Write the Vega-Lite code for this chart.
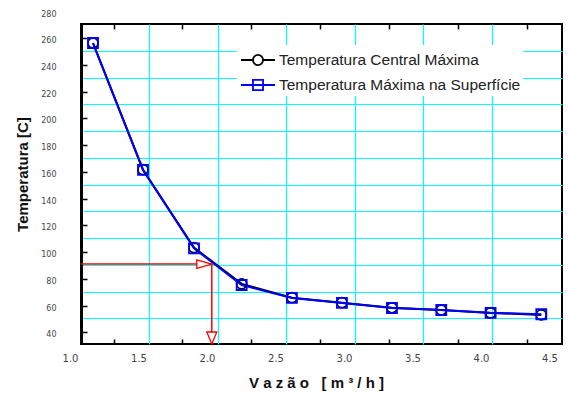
{
  "$schema": "https://vega.github.io/schema/vega-lite/v6.json",
  "width": 481,
  "height": 320,
  "autosize": "none",
  "padding": {"left": 81, "top": 24, "right": 6, "bottom": 54},
  "background": "white",
  "config": {
    "view": {"stroke": "black", "strokeWidth": 2},
    "axis": {"labelFont": "DejaVu Sans", "titleFont": "Liberation Sans", "labelColor": "#444", "titleColor": "#111", "labelOverlap": false, "labelFlush": false}
  },
  "datasets": {
    "series": [
      {"x": 1.168, "y": 258.3, "s": "Temperatura Central Máxima"},
      {"x": 1.533, "y": 163.6, "s": "Temperatura Central Máxima"},
      {"x": 1.905, "y": 105.3, "s": "Temperatura Central Máxima"},
      {"x": 2.253, "y": 78.2, "s": "Temperatura Central Máxima"},
      {"x": 2.62, "y": 67.9, "s": "Temperatura Central Máxima"},
      {"x": 2.985, "y": 64.2, "s": "Temperatura Central Máxima"},
      {"x": 3.35, "y": 60.3, "s": "Temperatura Central Máxima"},
      {"x": 3.71, "y": 58.6, "s": "Temperatura Central Máxima"},
      {"x": 4.07, "y": 56.5, "s": "Temperatura Central Máxima"},
      {"x": 4.44, "y": 55.0, "s": "Temperatura Central Máxima"},
      {"x": 1.168, "y": 258.3, "s": "Temperatura Máxima na Superfície"},
      {"x": 1.533, "y": 163.4, "s": "Temperatura Máxima na Superfície"},
      {"x": 1.905, "y": 104.8, "s": "Temperatura Máxima na Superfície"},
      {"x": 2.253, "y": 77.4, "s": "Temperatura Máxima na Superfície"},
      {"x": 2.62, "y": 67.7, "s": "Temperatura Máxima na Superfície"},
      {"x": 2.985, "y": 64.0, "s": "Temperatura Máxima na Superfície"},
      {"x": 3.35, "y": 60.2, "s": "Temperatura Máxima na Superfície"},
      {"x": 3.71, "y": 58.7, "s": "Temperatura Máxima na Superfície"},
      {"x": 4.07, "y": 56.6, "s": "Temperatura Máxima na Superfície"},
      {"x": 4.44, "y": 55.5, "s": "Temperatura Máxima na Superfície"}
    ],
    "hline": [{"x": 1.0803, "x2": 2.035, "y": 93}],
    "vline": [{"x": 2.035, "y": 93, "y2": 33.27}],
    "heads": [{"x": 2.035, "y": 93, "d": "h"}, {"x": 2.035, "y": 33.27, "d": "v"}]
  },
  "layer": [
    {
      "data": {"name": "series"},
      "mark": {"type": "line", "strokeWidth": 2},
      "encoding": {
        "x": {"field": "x", "type": "quantitative", "scale": {"domain": [1.0803, 4.5912], "nice": false, "zero": false},
          "axis": {"orient": "bottom", "values": [1.0803, 1.5, 2.0, 2.5, 3.0, 3.5, 4.0, 4.5], "labelExpr": "datum.value < 1.1 ? '1.0' : format(datum.value, '.1f')",
            "labelOffset": {"condition": {"test": "datum.value < 1.1", "value": -11}, "value": 0},
            "grid": false, "ticks": false, "tickSize": 0, "domain": false, "labelPadding": 9, "labelFontSize": 10,
            "title": "V\u00a0a\u00a0z\u00a0ã\u00a0o\u00a0\u00a0\u00a0[\u00a0m\u00a0³\u00a0/\u00a0h\u00a0]", "titleFontWeight": "bold", "titleFontSize": 15, "titlePadding": 12, "titleX": 235}},
        "y": {"field": "y", "type": "quantitative", "scale": {"domain": [33.27, 272.52], "nice": false, "zero": false},
          "axis": {"orient": "left", "values": [40, 60, 80, 100, 120, 140, 160, 180, 200, 220, 240, 260, 272.52], "labelExpr": "datum.value > 272 ? '280' : format(datum.value, 'd')",
            "labelOffset": {"condition": {"test": "datum.value > 272", "value": -10}, "value": 0},
            "grid": false, "ticks": false, "tickSize": 0, "domain": true, "domainWidth": 3, "domainColor": "black", "labelPadding": 25, "labelFontSize": 8,
            "title": "Temperatura [C]", "titleFontWeight": "bold", "titleFontSize": 15, "titlePadding": 10, "titleY": 150}},
        "color": {"field": "s", "type": "nominal", "scale": {"domain": ["Temperatura Central Máxima", "Temperatura Máxima na Superfície"], "range": ["black", "#0000ff"]}, "legend": null}
      }
    },
    {
      "data": {"name": "series"},
      "mark": {"type": "point", "filled": false, "strokeWidth": 1.8, "size": 100, "opacity": 1},
      "encoding": {
        "x": {"field": "x", "type": "quantitative", "scale": {"domain": [1.0803, 4.5912], "nice": false, "zero": false},
          "axis": {"orient": "bottom", "values": [1.578, 2.08, 2.58, 3.078, 3.579, 4.082], "grid": true, "gridColor": "#00ffff", "gridWidth": 1.2, "gridOpacity": 1, "ticks": false, "labels": false, "domain": false, "title": null}},
        "y": {"field": "y", "type": "quantitative", "scale": {"domain": [33.27, 272.52], "nice": false, "zero": false},
          "axis": {"orient": "left", "values": [52.5, 72.5, 92.5, 112.5, 132.5, 152.5, 172.5, 192.5, 212.5, 232.5, 252.5], "grid": true, "gridColor": "#00ffff", "gridWidth": 1.2, "gridOpacity": 1, "ticks": false, "labels": false, "domain": false, "title": null}},
        "color": {"field": "s", "type": "nominal", "scale": {"domain": ["Temperatura Central Máxima", "Temperatura Máxima na Superfície"], "range": ["black", "#0000ff"]}, "legend": null},
        "shape": {"field": "s", "type": "nominal", "scale": {"domain": ["Temperatura Central Máxima", "Temperatura Máxima na Superfície"], "range": ["circle", "square"]}, "legend": null}
      }
    },
    {
      "data": {"name": "series"},
      "mark": {"type": "point", "filled": false, "strokeWidth": 1.8, "size": 100, "opacity": 0},
      "encoding": {
        "x": {"field": "x", "type": "quantitative", "scale": {"domain": [1.0803, 4.5912], "nice": false, "zero": false}, "axis": null},
        "y": {"field": "y", "type": "quantitative", "scale": {"domain": [33.27, 272.52], "nice": false, "zero": false}, "axis": null},
        "color": {"field": "s", "type": "nominal", "scale": {"domain": ["Temperatura Central Máxima", "Temperatura Máxima na Superfície"], "range": ["black", "#0000ff"]},
          "legend": {"orient": "none", "legendX": 156, "legendY": 21, "title": null, "fillColor": "white", "padding": 2, "symbolOffset": 6, "labelOffset": 8, "labelFont": "Liberation Sans", "labelFontSize": 15.5, "labelColor": "#222", "symbolSize": 576, "symbolStrokeWidth": 1.8, "symbolOpacity": 1, "rowPadding": 3, "labelLimit": 400}},
        "shape": {"field": "s", "type": "nominal", "scale": {"domain": ["Temperatura Central Máxima", "Temperatura Máxima na Superfície"], "range": ["M -1.42 0 L -0.42 0 M 0.42 0 L 1.42 0 M 0.42 0 A 0.42 0.42 0 1 1 -0.42 0 A 0.42 0.42 0 1 1 0.42 0", "M -1.42 0 L 1.42 0 M -0.42 -0.42 L 0.42 -0.42 L 0.42 0.42 L -0.42 0.42 Z"]},
          "legend": {"orient": "none", "legendX": 156, "legendY": 21, "title": null, "fillColor": "white", "padding": 2, "symbolOffset": 6, "labelOffset": 8, "labelFont": "Liberation Sans", "labelFontSize": 15.5, "labelColor": "#222", "symbolSize": 576, "symbolStrokeWidth": 1.8, "symbolOpacity": 1, "rowPadding": 3, "labelLimit": 400}}
      }
    },
    {
      "data": {"name": "hline"},
      "mark": {"type": "rule", "color": "red", "strokeWidth": 1.5},
      "encoding": {
        "x": {"field": "x", "type": "quantitative", "scale": {"domain": [1.0803, 4.5912], "nice": false, "zero": false},
          "axis": {"orient": "bottom", "values": [1.318, 1.821, 2.324, 2.827, 3.33, 3.833, 4.336], "grid": false, "ticks": true, "tickSize": -5, "tickColor": "black", "tickWidth": 1.5, "labels": false, "domain": false, "title": null}},
        "x2": {"field": "x2"},
        "y": {"field": "y", "type": "quantitative", "scale": {"domain": [33.27, 272.52], "nice": false, "zero": false},
          "axis": {"orient": "left", "values": [42, 62, 82, 102, 122, 142, 162, 182, 202, 222, 242, 262], "grid": false, "ticks": true, "tickSize": -6, "tickColor": "black", "tickWidth": 1.5, "labels": false, "domain": false, "title": null}}
      }
    },
    {
      "data": {"name": "vline"},
      "mark": {"type": "rule", "color": "red", "strokeWidth": 1.5},
      "encoding": {
        "x": {"field": "x", "type": "quantitative", "scale": {"domain": [1.0803, 4.5912], "nice": false, "zero": false},
          "axis": {"orient": "top", "values": [1.318, 1.821, 2.324, 2.827, 3.33, 3.833, 4.336], "grid": false, "ticks": true, "tickSize": -5, "tickColor": "black", "tickWidth": 1.5, "labels": false, "domain": false, "title": null}},
        "y": {"field": "y", "type": "quantitative", "scale": {"domain": [33.27, 272.52], "nice": false, "zero": false}, "axis": null},
        "y2": {"field": "y2"}
      }
    },
    {
      "data": {"name": "heads"},
      "mark": {"type": "point", "filled": true, "fill": "white", "stroke": "red", "strokeWidth": 1.3, "size": 144, "opacity": 1},
      "encoding": {
        "x": {"field": "x", "type": "quantitative", "scale": {"domain": [1.0803, 4.5912], "nice": false, "zero": false}, "axis": null},
        "y": {"field": "y", "type": "quantitative", "scale": {"domain": [33.27, 272.52], "nice": false, "zero": false}, "axis": null},
        "shape": {"field": "d", "type": "nominal", "scale": {"domain": ["h", "v"], "range": ["M 0 0 L -2.5 -0.7 L -2.5 0.7 Z", "M 0 0 L -0.83 -2 L 0.83 -2 Z"]}, "legend": null}
      }
    }
  ],
  "resolve": {"axis": {"x": "independent", "y": "independent"}, "scale": {"color": "independent", "shape": "independent"}}
}
